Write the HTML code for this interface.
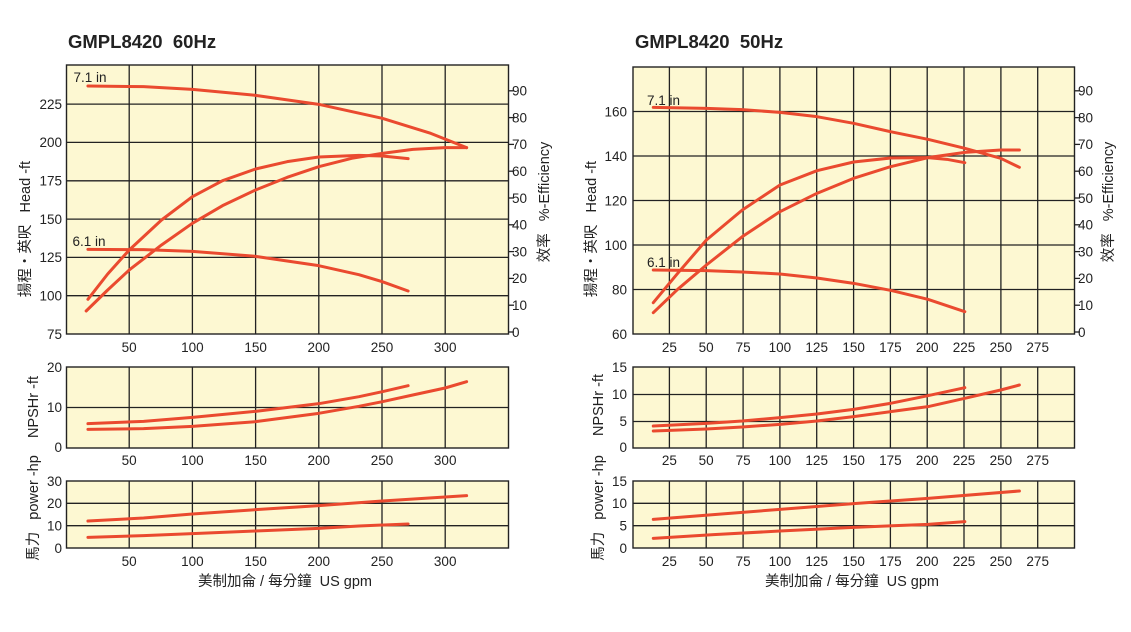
<!DOCTYPE html>
<html><head><meta charset="utf-8"><style>
html,body{margin:0;padding:0;background:#fff;}
svg{display:block;font-family:"Liberation Sans","Noto Sans CJK TC",sans-serif;}
.fr{fill:#fdf8d2;stroke:#222;stroke-width:1.4}
.g{stroke:#222;stroke-width:1.3}
.c{fill:none;stroke:#ea4a2f;stroke-width:3;stroke-linejoin:round;stroke-linecap:round}
.t{font-size:13.5px;fill:#222}
</style></head><body>
<svg width="1131" height="632" viewBox="0 0 1131 632" xmlns="http://www.w3.org/2000/svg">
<!-- Titles -->
<text x="68" y="48" font-size="18.5" font-weight="bold" fill="#222">GMPL8420&#160;&#160;60Hz</text>
<text x="635" y="48" font-size="18.5" font-weight="bold" fill="#222">GMPL8420&#160;&#160;50Hz</text>

<!-- LEFT MAIN -->
<rect class="fr" x="66.5" y="65" width="442" height="269"/>
<g class="g">
<line x1="129.2" y1="65" x2="129.2" y2="334"/><line x1="192.4" y1="65" x2="192.4" y2="334"/><line x1="255.6" y1="65" x2="255.6" y2="334"/><line x1="318.8" y1="65" x2="318.8" y2="334"/><line x1="382" y1="65" x2="382" y2="334"/><line x1="445.2" y1="65" x2="445.2" y2="334"/>
<line x1="66.5" y1="295.7" x2="508.5" y2="295.7"/><line x1="66.5" y1="257.4" x2="508.5" y2="257.4"/><line x1="66.5" y1="219.1" x2="508.5" y2="219.1"/><line x1="66.5" y1="180.8" x2="508.5" y2="180.8"/><line x1="66.5" y1="142.4" x2="508.5" y2="142.4"/><line x1="66.5" y1="104.1" x2="508.5" y2="104.1"/>
<line x1="508.5" y1="332" x2="514" y2="332"/><line x1="508.5" y1="305.2" x2="514" y2="305.2"/><line x1="508.5" y1="278.4" x2="514" y2="278.4"/><line x1="508.5" y1="251.6" x2="514" y2="251.6"/><line x1="508.5" y1="224.8" x2="514" y2="224.8"/><line x1="508.5" y1="198" x2="514" y2="198"/><line x1="508.5" y1="171.2" x2="514" y2="171.2"/><line x1="508.5" y1="144.4" x2="514" y2="144.4"/><line x1="508.5" y1="117.6" x2="514" y2="117.6"/><line x1="508.5" y1="90.8" x2="514" y2="90.8"/>
</g>
<g class="t" text-anchor="end">
<text x="62" y="339">75</text><text x="62" y="300.5">100</text><text x="62" y="262">125</text><text x="62" y="224">150</text><text x="62" y="185.5">175</text><text x="62" y="147">200</text><text x="62" y="109">225</text>
</g>
<g class="t">
<text x="512" y="337">0</text><text x="512" y="310">10</text><text x="512" y="283">20</text><text x="512" y="256.5">30</text><text x="512" y="229.5">40</text><text x="512" y="203">50</text><text x="512" y="176">60</text><text x="512" y="149">70</text><text x="512" y="122.5">80</text><text x="512" y="95.5">90</text>
</g>
<g class="t" text-anchor="middle">
<text x="129.2" y="352">50</text><text x="192.4" y="352">100</text><text x="255.6" y="352">150</text><text x="318.8" y="352">200</text><text x="382" y="352">250</text><text x="445.2" y="352">300</text>
</g>
<text class="t" x="73.5" y="82">7.1 in</text>
<text class="t" x="72.5" y="246">6.1 in</text>
<g transform="translate(0,20) scale(0.35894,0.33333)">
<polyline class="c" vector-effect="non-scaling-stroke" points="245,198 400,200 536,208 712,226 888,253 1065,295 1200,340 1300,383 1285,378"/>
<polyline class="c" vector-effect="non-scaling-stroke" points="245,688 400,689 536,694 712,709 888,737 1000,764 1065,785 1137,813"/>
<polyline class="c" vector-effect="non-scaling-stroke" points="245,838 300,762 360,690 450,600 536,530 620,482 712,447 800,425 888,411 1000,406 1065,408 1137,416"/>
<polyline class="c" vector-effect="non-scaling-stroke" points="240,873 300,810 360,750 450,675 536,610 620,557 712,510 800,472 888,440 980,415 1065,400 1150,388 1240,383 1300,383"/>
</g>
<text transform="translate(30,229) rotate(-90)" text-anchor="middle" font-size="14.5" fill="#222">揚程・英呎&#160;&#160;&#160;Head -ft</text>
<text transform="translate(549,202) rotate(-90)" text-anchor="middle" font-size="14.5" fill="#222">效率&#160;&#160;&#160;%-Efficiency</text>

<!-- LEFT NPSH -->
<rect class="fr" x="66.5" y="367" width="442" height="81"/>
<g class="g">
<line x1="129.2" y1="367" x2="129.2" y2="448"/><line x1="192.4" y1="367" x2="192.4" y2="448"/><line x1="255.6" y1="367" x2="255.6" y2="448"/><line x1="318.8" y1="367" x2="318.8" y2="448"/><line x1="382" y1="367" x2="382" y2="448"/><line x1="445.2" y1="367" x2="445.2" y2="448"/>
<line x1="66.5" y1="407.5" x2="508.5" y2="407.5"/>
</g>
<g class="t" text-anchor="end"><text x="62" y="452">0</text><text x="62" y="412">10</text><text x="62" y="372">20</text></g>
<g class="t" text-anchor="middle">
<text x="129.2" y="465">50</text><text x="192.4" y="465">100</text><text x="255.6" y="465">150</text><text x="318.8" y="465">200</text><text x="382" y="465">250</text><text x="445.2" y="465">300</text>
</g>
<g transform="translate(0,355) scale(0.35894,0.33333)">
<polyline class="c" vector-effect="non-scaling-stroke" points="245,206 400,199 536,187 712,169 888,146 1000,125 1065,110 1137,92"/>
<polyline class="c" vector-effect="non-scaling-stroke" points="245,223 400,221 536,214 712,200 888,175 1000,154 1065,140 1150,120 1240,99 1300,80"/>
</g>
<text transform="translate(38,407) rotate(-90)" text-anchor="middle" font-size="14.5" fill="#222">NPSHr -ft</text>

<!-- LEFT POWER -->
<rect class="fr" x="66.5" y="481" width="442" height="67"/>
<g class="g">
<line x1="129.2" y1="481" x2="129.2" y2="548"/><line x1="192.4" y1="481" x2="192.4" y2="548"/><line x1="255.6" y1="481" x2="255.6" y2="548"/><line x1="318.8" y1="481" x2="318.8" y2="548"/><line x1="382" y1="481" x2="382" y2="548"/><line x1="445.2" y1="481" x2="445.2" y2="548"/>
<line x1="66.5" y1="503.3" x2="508.5" y2="503.3"/><line x1="66.5" y1="525.7" x2="508.5" y2="525.7"/>
</g>
<g class="t" text-anchor="end"><text x="62" y="553">0</text><text x="62" y="530.5">10</text><text x="62" y="508">20</text><text x="62" y="486">30</text></g>
<g class="t" text-anchor="middle">
<text x="129.2" y="566">50</text><text x="192.4" y="566">100</text><text x="255.6" y="566">150</text><text x="318.8" y="566">200</text><text x="382" y="566">250</text><text x="445.2" y="566">300</text>
</g>
<g transform="translate(0,355) scale(0.35894,0.33333)">
<polyline class="c" vector-effect="non-scaling-stroke" points="245,498 400,489 536,477 712,464 888,452 1065,438 1300,422"/>
<polyline class="c" vector-effect="non-scaling-stroke" points="245,547 400,542 536,536 712,528 888,520 1000,513 1137,507"/>
</g>
<text transform="translate(38,508) rotate(-90)" text-anchor="middle" font-size="14.5" fill="#222">馬力&#160;&#160;&#160;power -hp</text>
<text x="285" y="586" text-anchor="middle" font-size="14.5" fill="#222">美制加侖 / 每分鐘&#160;&#160;US gpm</text>

<!-- RIGHT MAIN -->
<rect class="fr" x="633" y="67" width="441.5" height="267"/>
<g class="g">
<line x1="669.4" y1="67" x2="669.4" y2="334"/><line x1="706.2" y1="67" x2="706.2" y2="334"/><line x1="743.1" y1="67" x2="743.1" y2="334"/><line x1="779.9" y1="67" x2="779.9" y2="334"/><line x1="816.7" y1="67" x2="816.7" y2="334"/><line x1="853.6" y1="67" x2="853.6" y2="334"/><line x1="890.4" y1="67" x2="890.4" y2="334"/><line x1="927.2" y1="67" x2="927.2" y2="334"/><line x1="964" y1="67" x2="964" y2="334"/><line x1="1000.9" y1="67" x2="1000.9" y2="334"/><line x1="1037.7" y1="67" x2="1037.7" y2="334"/>
<line x1="633" y1="289.5" x2="1074.5" y2="289.5"/><line x1="633" y1="245" x2="1074.5" y2="245"/><line x1="633" y1="200.5" x2="1074.5" y2="200.5"/><line x1="633" y1="156" x2="1074.5" y2="156"/><line x1="633" y1="111.5" x2="1074.5" y2="111.5"/>
<line x1="1074.5" y1="332" x2="1080" y2="332"/><line x1="1074.5" y1="305.2" x2="1080" y2="305.2"/><line x1="1074.5" y1="278.4" x2="1080" y2="278.4"/><line x1="1074.5" y1="251.6" x2="1080" y2="251.6"/><line x1="1074.5" y1="224.8" x2="1080" y2="224.8"/><line x1="1074.5" y1="198" x2="1080" y2="198"/><line x1="1074.5" y1="171.2" x2="1080" y2="171.2"/><line x1="1074.5" y1="144.4" x2="1080" y2="144.4"/><line x1="1074.5" y1="117.6" x2="1080" y2="117.6"/><line x1="1074.5" y1="90.8" x2="1080" y2="90.8"/>
</g>
<g class="t" text-anchor="end">
<text x="627" y="339">60</text><text x="627" y="294.5">80</text><text x="627" y="250">100</text><text x="627" y="205.5">120</text><text x="627" y="161">140</text><text x="627" y="116.5">160</text>
</g>
<g class="t">
<text x="1078" y="337">0</text><text x="1078" y="310">10</text><text x="1078" y="283">20</text><text x="1078" y="256.5">30</text><text x="1078" y="229.5">40</text><text x="1078" y="203">50</text><text x="1078" y="176">60</text><text x="1078" y="149">70</text><text x="1078" y="122.5">80</text><text x="1078" y="95.5">90</text>
</g>
<g class="t" text-anchor="middle">
<text x="669.4" y="352">25</text><text x="706.2" y="352">50</text><text x="743.1" y="352">75</text><text x="779.9" y="352">100</text><text x="816.7" y="352">125</text><text x="853.6" y="352">150</text><text x="890.4" y="352">175</text><text x="927.2" y="352">200</text><text x="964" y="352">225</text><text x="1000.9" y="352">250</text><text x="1037.7" y="352">275</text>
</g>
<text class="t" x="647" y="105">7.1 in</text>
<text class="t" x="647" y="267">6.1 in</text>
<g transform="translate(570,20) scale(0.35894,0.33333)">
<polyline class="c" vector-effect="non-scaling-stroke" points="232,262 380,265 480,269 585,277 688,290 790,310 893,335 997,358 1100,385 1200,415 1252,442"/>
<polyline class="c" vector-effect="non-scaling-stroke" points="232,750 380,752 480,756 585,762 688,774 790,790 893,811 997,838 1100,875"/>
<polyline class="c" vector-effect="non-scaling-stroke" points="232,848 300,760 380,660 480,570 585,495 688,452 790,426 893,414 997,413 1050,418 1100,428"/>
<polyline class="c" vector-effect="non-scaling-stroke" points="232,878 300,808 380,735 480,650 585,575 688,520 790,475 893,440 997,413 1100,397 1200,390 1252,390"/>
</g>
<text transform="translate(596,229) rotate(-90)" text-anchor="middle" font-size="14.5" fill="#222">揚程・英呎&#160;&#160;&#160;Head -ft</text>
<text transform="translate(1113,202) rotate(-90)" text-anchor="middle" font-size="14.5" fill="#222">效率&#160;&#160;&#160;%-Efficiency</text>

<!-- RIGHT NPSH -->
<rect class="fr" x="633" y="367" width="441.5" height="81"/>
<g class="g">
<line x1="669.4" y1="367" x2="669.4" y2="448"/><line x1="706.2" y1="367" x2="706.2" y2="448"/><line x1="743.1" y1="367" x2="743.1" y2="448"/><line x1="779.9" y1="367" x2="779.9" y2="448"/><line x1="816.7" y1="367" x2="816.7" y2="448"/><line x1="853.6" y1="367" x2="853.6" y2="448"/><line x1="890.4" y1="367" x2="890.4" y2="448"/><line x1="927.2" y1="367" x2="927.2" y2="448"/><line x1="964" y1="367" x2="964" y2="448"/><line x1="1000.9" y1="367" x2="1000.9" y2="448"/><line x1="1037.7" y1="367" x2="1037.7" y2="448"/>
<line x1="633" y1="394.5" x2="1074.5" y2="394.5"/><line x1="633" y1="421.5" x2="1074.5" y2="421.5"/>
</g>
<g class="t" text-anchor="end"><text x="627" y="452">0</text><text x="627" y="426">5</text><text x="627" y="399">10</text><text x="627" y="372">15</text></g>
<g class="t" text-anchor="middle">
<text x="669.4" y="465">25</text><text x="706.2" y="465">50</text><text x="743.1" y="465">75</text><text x="779.9" y="465">100</text><text x="816.7" y="465">125</text><text x="853.6" y="465">150</text><text x="890.4" y="465">175</text><text x="927.2" y="465">200</text><text x="964" y="465">225</text><text x="1000.9" y="465">250</text><text x="1037.7" y="465">275</text>
</g>
<g transform="translate(570,355) scale(0.35894,0.33333)">
<polyline class="c" vector-effect="non-scaling-stroke" points="232,213 380,205 480,198 585,188 688,177 790,163 893,145 997,122 1100,98"/>
<polyline class="c" vector-effect="non-scaling-stroke" points="232,228 380,222 480,216 585,208 688,198 790,185 893,170 997,155 1100,130 1200,105 1252,90"/>
</g>
<text transform="translate(603,405) rotate(-90)" text-anchor="middle" font-size="14.5" fill="#222">NPSHr -ft</text>

<!-- RIGHT POWER -->
<rect class="fr" x="633" y="481" width="441.5" height="67"/>
<g class="g">
<line x1="669.4" y1="481" x2="669.4" y2="548"/><line x1="706.2" y1="481" x2="706.2" y2="548"/><line x1="743.1" y1="481" x2="743.1" y2="548"/><line x1="779.9" y1="481" x2="779.9" y2="548"/><line x1="816.7" y1="481" x2="816.7" y2="548"/><line x1="853.6" y1="481" x2="853.6" y2="548"/><line x1="890.4" y1="481" x2="890.4" y2="548"/><line x1="927.2" y1="481" x2="927.2" y2="548"/><line x1="964" y1="481" x2="964" y2="548"/><line x1="1000.9" y1="481" x2="1000.9" y2="548"/><line x1="1037.7" y1="481" x2="1037.7" y2="548"/>
<line x1="633" y1="503.3" x2="1074.5" y2="503.3"/><line x1="633" y1="525.7" x2="1074.5" y2="525.7"/>
</g>
<g class="t" text-anchor="end"><text x="627" y="553">0</text><text x="627" y="530.5">5</text><text x="627" y="508">10</text><text x="627" y="486">15</text></g>
<g class="t" text-anchor="middle">
<text x="669.4" y="566">25</text><text x="706.2" y="566">50</text><text x="743.1" y="566">75</text><text x="779.9" y="566">100</text><text x="816.7" y="566">125</text><text x="853.6" y="566">150</text><text x="890.4" y="566">175</text><text x="927.2" y="566">200</text><text x="964" y="566">225</text><text x="1000.9" y="566">250</text><text x="1037.7" y="566">275</text>
</g>
<g transform="translate(570,355) scale(0.35894,0.33333)">
<polyline class="c" vector-effect="non-scaling-stroke" points="232,493 400,479 585,463 790,446 997,430 1252,408"/>
<polyline class="c" vector-effect="non-scaling-stroke" points="232,550 400,539 585,528 790,517 997,508 1100,500"/>
</g>
<text transform="translate(603,508) rotate(-90)" text-anchor="middle" font-size="14.5" fill="#222">馬力&#160;&#160;&#160;power -hp</text>
<text x="852" y="586" text-anchor="middle" font-size="14.5" fill="#222">美制加侖 / 每分鐘&#160;&#160;US gpm</text>
</svg>
</body></html>
